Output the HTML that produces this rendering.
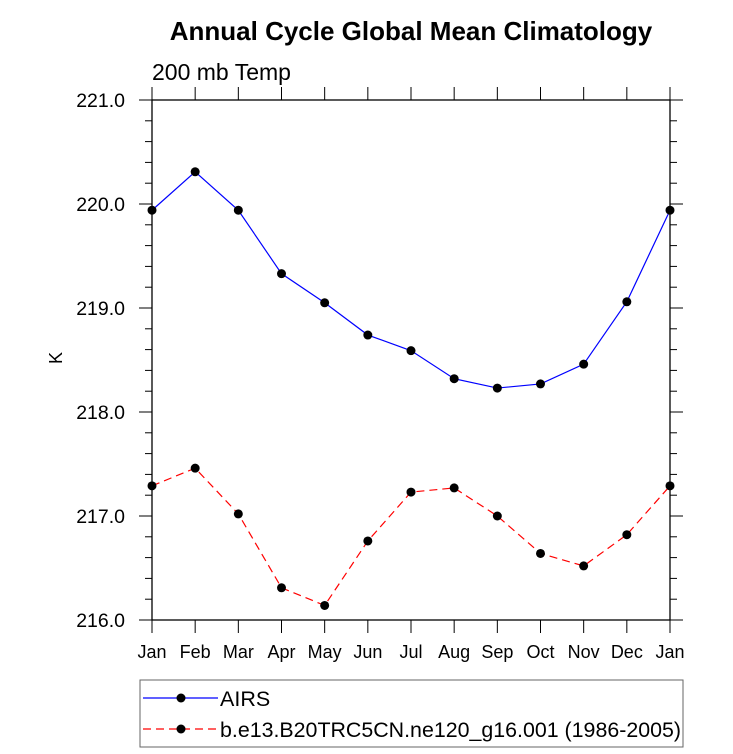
<!DOCTYPE html>
<html><head><meta charset="utf-8"><style>
body{margin:0;background:#fff;}
svg{display:block;font-family:"Liberation Sans",Arial,sans-serif;}
</style></head><body>
<svg id="chart" width="733" height="754" viewBox="0 0 733 754">
<text x="411" y="40" font-size="26" font-weight="bold" text-anchor="middle">Annual Cycle Global Mean Climatology</text>
<text x="152" y="80" font-size="23">200 mb Temp</text>
<text x="0" y="0" font-size="18" text-anchor="middle" transform="translate(62,358) rotate(-90)">K</text>
<g id="axes"></g>
<g id="series"></g>
<rect x="140" y="680" width="543" height="67" fill="none" stroke="#666" stroke-width="1"/>
<g>
<line x1="143" y1="698" x2="218" y2="698" stroke="#0000ff" stroke-width="1.2"/>
<circle cx="181" cy="698" r="4.5" fill="#000"/>
<text x="220" y="706" font-size="21.5">AIRS</text>
</g>
<g>
<line x1="143" y1="729" x2="218" y2="729" stroke="#ff0000" stroke-width="1.2" stroke-dasharray="8,5"/>
<circle cx="181" cy="729" r="4.5" fill="#000"/>
<text x="220" y="737" font-size="21.5" textLength="461" lengthAdjust="spacingAndGlyphs">b.e13.B20TRC5CN.ne120_g16.001 (1986-2005)</text>
</g>
</svg>
<script>
const months = ["Jan","Feb","Mar","Apr","May","Jun","Jul","Aug","Sep","Oct","Nov","Dec","Jan"];
const airs = [219.94,220.31,219.94,219.33,219.05,218.74,218.59,218.32,218.23,218.27,218.46,219.06,219.94];
const model = [217.29,217.46,217.02,216.31,216.14,216.76,217.23,217.27,217.0,216.64,216.52,216.82,217.29];
const yTicks = [216.0,217.0,218.0,219.0,220.0,221.0];
const yMin = 216, yMax = 221;
const L=152,R=670,T=100,B=620;
const ns="http://www.w3.org/2000/svg";
function x(i){return L+(R-L)*i/(months.length-1);}
function y(v){return B-(v-yMin)/(yMax-yMin)*(B-T);}
function mk(tag,attrs,parent){const e=document.createElementNS(ns,tag);for(const k in attrs)e.setAttribute(k,attrs[k]);parent.appendChild(e);return e;}
const ax=document.getElementById('axes');
const fr=mk('rect',{x:L,y:T,width:R-L,height:B-T,fill:'none',stroke:'#000','stroke-width':1.3},ax);


months.forEach((m,i)=>{
  const t1=mk('line',{x1:x(i),x2:x(i),y1:B,y2:B+13,stroke:'#000','stroke-width':1},ax);
  
  
  const t2=mk('line',{x1:x(i),x2:x(i),y1:T,y2:T-13,stroke:'#000','stroke-width':1},ax);
  
  
  const lb=mk('text',{x:x(i),y:B+38,'font-size':18,'text-anchor':'middle'},ax);
  lb.textContent=m;
  
  
});
for(let v=yMin;v<=yMax+1e-6;v+=0.2){
  const major=Math.abs(v-Math.round(v))<1e-6;
  const len=major?13:7;
  const a=mk('line',{x1:L-len,x2:L,y1:y(v),y2:y(v),stroke:'#000','stroke-width':1},ax);
  
  
  const b=mk('line',{x1:R,x2:R+len,y1:y(v),y2:y(v),stroke:'#000','stroke-width':1},ax);
  
  
}
yTicks.forEach(v=>{
  const lb=mk('text',{x:L-27,y:y(v)+7,'font-size':19.5,'text-anchor':'end'},ax);
  lb.textContent=v.toFixed(1);
  
  
});
const sg=document.getElementById('series');
function series(vals,color,dash,name){
  const p=mk('polyline',{points:vals.map((v,i)=>x(i)+','+y(v)).join(' '),fill:'none',stroke:color,'stroke-width':1.2},sg);
  if(dash)p.setAttribute('stroke-dasharray',dash);
  
  
  vals.forEach((v,i)=>{
    const c=mk('circle',{cx:x(i),cy:y(v),r:4.5,fill:'#000'},sg);
    
    
  });
}
series(airs,'#0000ff',null,'airs');
series(model,'#ff0000','8,5','model');
</script>
</body></html>
